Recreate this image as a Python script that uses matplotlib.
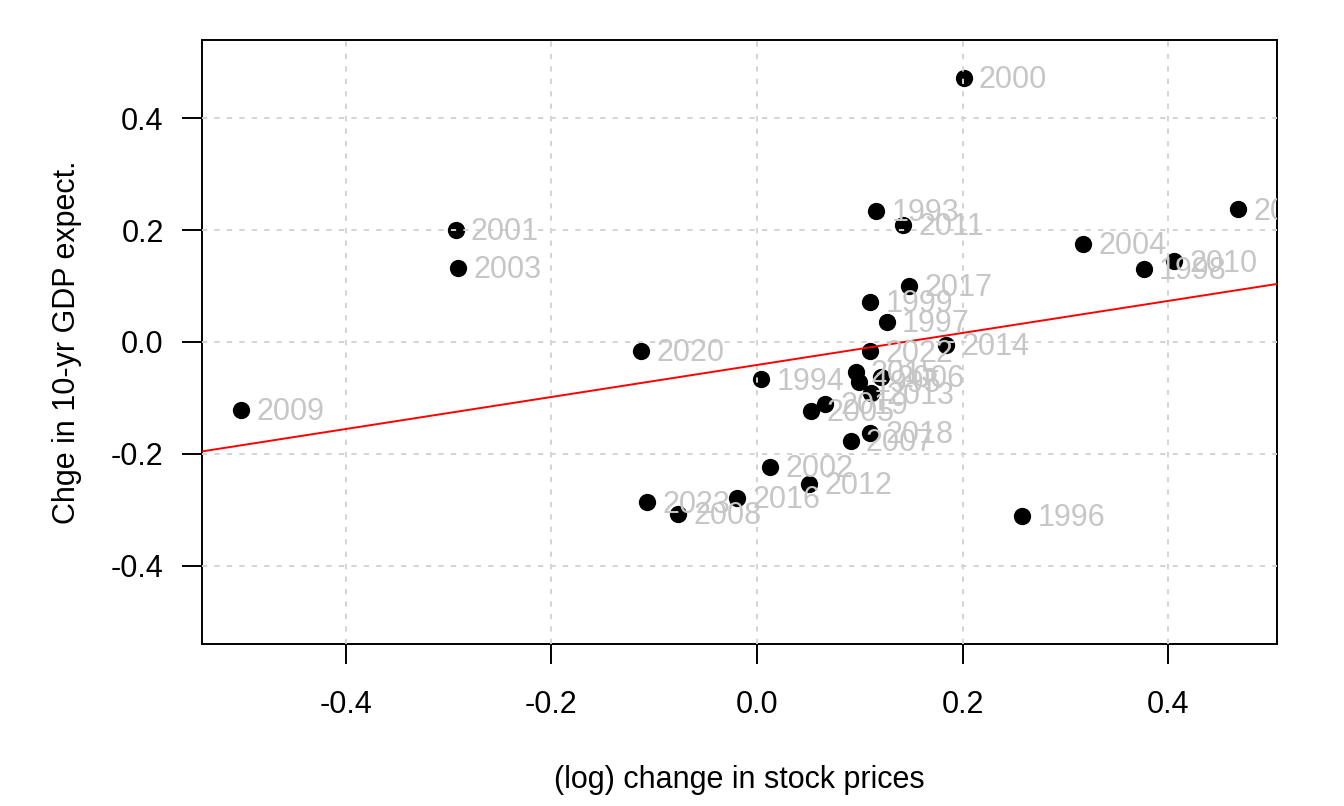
import numpy as np
import matplotlib
matplotlib.use("Agg")
import matplotlib.pyplot as plt
import matplotlib.transforms as mtransforms

plt.rcParams['font.family'] = ['Liberation Sans', 'DejaVu Sans']
plt.rcParams['axes.unicode_minus'] = False

# values
years = [2000, 1993, 2011, 2001, 2003, 2004, 1998, 2010, 2021, 2017,
         1999, 1997, 2014, 2022, 2020, 1994, 2009, 2015, 1995, 2006,
         2013, 2005, 2019, 2018, 2007, 2002, 2012, 2016, 2023, 2008, 1996]
stock_chg = [0.201, 0.116, 0.142, -0.293, -0.291, 0.317, 0.376, 0.406, 0.468, 0.148,
             0.110, 0.126, 0.184, 0.110, -0.113, 0.004, -0.502, 0.096, 0.099, 0.121,
             0.111, 0.053, 0.066, 0.110, 0.091, 0.013, 0.051, -0.019, -0.107, -0.077, 0.258]
gdp_chg = [0.472, 0.235, 0.210, 0.201, 0.133, 0.176, 0.130, 0.144, 0.237, 0.100,
           0.072, 0.036, -0.005, -0.017, -0.016, -0.067, -0.121, -0.053, -0.072, -0.063,
           -0.092, -0.123, -0.110, -0.162, -0.177, -0.223, -0.254, -0.279, -0.287, -0.307, -0.311]

xticks = [-0.4, -0.2, 0.0, 0.2, 0.4]
yticks = [-0.4, -0.2, 0.0, 0.2, 0.4]

fig = plt.figure(figsize=(13.44, 8.06), dpi=100)
ax = fig.add_axes([0.1501, 0.201, 0.7998, 0.7494])

ax.scatter(stock_chg, gdp_chg, s=155, color='black', linewidths=0, zorder=2)

# OLS fit line
slope, intercept = np.polyfit(stock_chg, gdp_chg, 1)
ax.axline((0, intercept), slope=slope, color='red', lw=1.4, zorder=3)

lbl_tr = mtransforms.offset_copy(ax.transData, fig=fig, x=11, y=-1.5, units='points')
for xv, yv, yr in zip(stock_chg, gdp_chg, years):
    ax.text(xv, yv, str(yr), transform=lbl_tr, color='#c6c6c6', fontsize=22,
            ha='left', va='center', clip_on=True, zorder=5)

ax.set_xlim(-0.540, 0.5054)
ax.set_ylim(-0.54, 0.54)
ax.set_xticks(xticks)
ax.set_yticks(yticks)
ax.set_xticklabels([f"{t:.1f}" for t in xticks])
ax.set_yticklabels([f"{t:.1f}" for t in yticks])
ax.grid(True, color='#d3d3d3', lw=1.4, linestyle=(0, (2.7, 3.7)), zorder=4)
ax.set_axisbelow(False)

ax.tick_params(direction='out', length=14.4, width=1.4, labelsize=22, colors='black')
ax.tick_params(axis='x', pad=19)
ax.tick_params(axis='y', pad=13)
for sp in ax.spines.values():
    sp.set_linewidth(1.4)

ax.set_xlabel("(log) change in stock prices", fontsize=22, va='center')
ax.set_ylabel("Chge in 10-yr GDP expect.", fontsize=22, va='center')
ax.xaxis.set_label_coords(0.5, -0.225)
ax.yaxis.set_label_coords(-0.125, 0.5)

fig.savefig("out.png", dpi=100, facecolor='white')
